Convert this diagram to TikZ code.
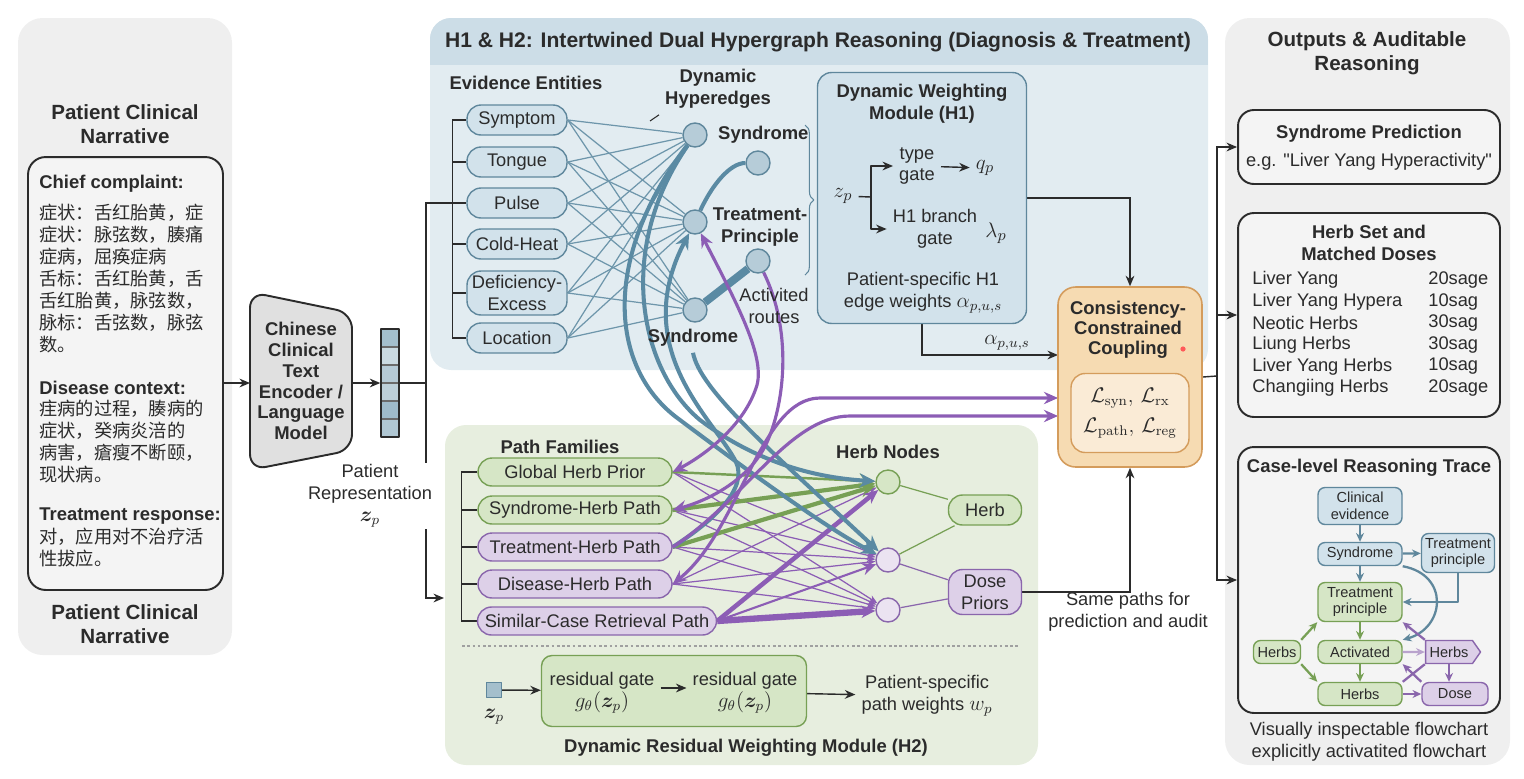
\documentclass[tikz,border=0pt]{standalone}
\usepackage[no-math]{fontspec}
\setmainfont{Liberation Sans}
\newfontfamily\rawfont{Liberation Sans}[Ligatures=ResetAll]
\newfontfamily\cjkfont{Noto Sans CJK SC}
\usepackage{amsmath,amssymb,bm}
\usetikzlibrary{
  arrows.meta,
  positioning,
  calc,
  shapes.symbols,
  decorations.pathreplacing
}
\definecolor{inkdark}{HTML}{2B2B2B}
\definecolor{panelgray}{HTML}{EFEFEF}
\definecolor{boxgray}{HTML}{F4F4F4}
\definecolor{encgray}{HTML}{E0E0E0}
\definecolor{skypanel}{HTML}{E2ECF1}
\definecolor{skyhead}{HTML}{CCDDE7}
\definecolor{skyfill}{HTML}{D2E2EB}
\definecolor{skyline}{HTML}{5F879C}
\definecolor{skynode}{HTML}{B6CCD8}
\definecolor{skyedge}{HTML}{6E96AB}
\definecolor{skythick}{HTML}{5A8AA3}
\definecolor{leafpanel}{HTML}{E7EEDF}
\definecolor{leaffill}{HTML}{D6E6C6}
\definecolor{leafline}{HTML}{77A055}
\definecolor{plumfill}{HTML}{DDD0E8}
\definecolor{plumline}{HTML}{8A66AC}
\definecolor{plumedge}{HTML}{8C5DB5}
\definecolor{sandfill}{HTML}{F6DBB2}
\definecolor{sandline}{HTML}{D49C5C}
\definecolor{sandin}{HTML}{FAEBD6}
\newcommand{\txtbody}{\fontsize{10.4}{12.5}\selectfont}
\newcommand{\txthead}{\fontsize{10.5}{12.5}\selectfont\bfseries}
\newcommand{\txttitle}{\fontsize{11.7}{13.8}\selectfont\bfseries}
\newcommand{\txtsmall}{\fontsize{8.3}{9.6}\selectfont}
\newcommand{\txtmath}{\fontsize{13}{15}\selectfont}
\pgfdeclarelayer{bg}
\pgfdeclarelayer{wires}
\pgfsetlayers{bg,wires,main}

\begin{document}
\begin{tikzpicture}[x=0.02cm, y=-0.02cm, line join=round,
  every node/.style={font=\txtbody, text=inkdark},
  title/.style={font=\txttitle, align=center},
  head/.style={font=\txthead, align=center},
  note/.style={align=center},
  mathlab/.style={font=\txtmath},
  cjk/.style={font=\txtbody\cjkfont, align=left, anchor=north west, inner sep=0pt},
  wire/.style={draw=inkdark, line width=0.8pt},
  arr/.style={wire, -{Stealth[length=6pt,width=5pt]}},
  entity/.style={draw=skyline, fill=skyfill, rounded corners=8pt, minimum width=2cm, minimum height=0.6cm, align=center, inner sep=1pt, line width=0.8pt},
  hyper/.style={circle, draw=skyline, fill=skynode, minimum size=0.48cm, inner sep=0pt, line width=0.8pt},
  famleaf/.style={entity, draw=leafline, fill=leaffill, minimum width=3.88cm, minimum height=0.56cm},
  famplum/.style={famleaf, draw=plumline, fill=plumfill},
  herbleaf/.style={hyper, draw=leafline, fill=leaffill},
  herbplum/.style={hyper, draw=plumline, fill=plumfill!60},
  hedge/.style={draw=skyedge, line width=0.7pt},
  hbold/.style={draw=skythick, line width=2.3pt, -{Stealth[length=9pt,width=8pt]}},
  pbold/.style={draw=plumedge, line width=1.8pt, -{Stealth[length=8pt,width=7pt]}},
  pboth/.style={{Stealth[length=8pt,width=7pt]}-{Stealth[length=8pt,width=7pt]}},
  gbold/.style={draw=leafline, line width=2.4pt, -{Stealth[length=9pt,width=8pt]}},
  pthin/.style={draw=plumedge, line width=0.7pt, -{Stealth[length=5pt,width=4pt]}},
  module/.style={draw=skyline, fill=skyfill, rounded corners=8pt, line width=0.8pt},
  outbox/.style={draw=inkdark, fill=boxgray, rounded corners=9pt, line width=1.1pt, minimum width=5.24cm},
  flowsky/.style={draw=skyline, fill=skyfill, rounded corners=4pt, font=\txtsmall, align=center, minimum width=1.68cm, minimum height=0.46cm, inner sep=1.5pt, line width=0.8pt},
  flowleaf/.style={flowsky, draw=leafline, fill=leaffill},
  flowplum/.style={flowsky, draw=plumline, fill=plumfill},
  farr/.style={-{Stealth[length=5pt,width=4.5pt]}, line width=1.3pt}]
  \useasboundingbox (0,0) rectangle (1524,778);
  \begin{pgfonlayer}{bg}
    \fill[panelgray, rounded corners=14pt] (18,18) rectangle (232,655);
    \fill[panelgray, rounded corners=14pt] (1225,18) rectangle (1510,765);
    \fill[skypanel, rounded corners=12pt] (430,18) rectangle (1208,370);
    \begin{scope}
      \clip[rounded corners=12pt] (430,18) rectangle (1208,370);
      \fill[skyhead] (430,18) rectangle (1208,65);
    \end{scope}
    \fill[leafpanel, rounded corners=12pt] (445,425) rectangle (1038,765);
  \end{pgfonlayer}

  \node[title] (pcntop) at (125,124) {Patient Clinical\\Narrative};
  \node[draw=inkdark, fill=boxgray, rounded corners=10pt, line width=1.1pt, minimum width=3.9cm, minimum height=8.66cm] (narr) at (125.5,373.5) {};
  \node[head, anchor=west, inner sep=0pt] (cchead) at (39,184) {Chief complaint:};
  \node[cjk] (cctext) at (39,204) {症状：舌红胎黄，症\\症状：脉弦数，腠痛\\症病，屈痪症病\\舌标：舌红胎黄，舌\\舌红胎黄，脉弦数，\\脉标：舌弦数，脉弦\\数。};
  \node[head, anchor=west, inner sep=0pt] (dchead) at (39,388) {Disease context:};
  \node[cjk] (dctext) at (39,400) {疰病的过程，腠病的\\症状，癸病炎涪的\\病害，瘡瘦不断颐，\\现状病。};
  \node[head, anchor=west, inner sep=0pt] (trhead) at (39,516) {Treatment response:};
  \node[cjk] (trtext) at (39,528) {对，应用对不治疗活\\性拔应。};
  \node[title] (pcnbot) at (125,624) {Patient Clinical\\Narrative};

  \draw[fill=encgray, draw=inkdark, line width=1.1pt, rounded corners=9pt] (250,292) -- (352,313) -- (352,450) -- (250,470) -- cycle;
  \node[head, font=\fontsize{10.5}{11.9}\selectfont\bfseries] (enc) at (301,381) {Chinese\\Clinical\\Text\\Encoder /\\Language\\Model};
  \coordinate (encin) at (250,383);
  \coordinate (encout) at (352,383);
  \foreach \i/\s in {0/55,1/32,2/45,3/40,4/58,5/48} {
    \fill[skythick!\s!white] (381,{329+18*\i}) rectangle (399,{347+18*\i});
  }
  \foreach \i in {1,...,5} {
    \draw[inkdark!70, line width=0.6pt] (381,{329+18*\i}) -- (399,{329+18*\i});
  }
  \node[draw=inkdark, line width=0.8pt, minimum width=0.36cm, minimum height=2.16cm, inner sep=0pt] (vec) at (390,383) {};
  \coordinate (split) at (426,383);
  \coordinate (evin) at (453,203);
  \coordinate (pfin) at (444,598);

  \node[font=\fontsize{12}{14}\selectfont\bfseries] (h12) at (818,42) {H1 \& H2: Intertwined Dual Hypergraph Reasoning (Diagnosis \& Treatment)};
  \node[head] (evtitle) at (526,83) {Evidence Entities};
  \node[entity] (sym) at (517,120) {Symptom};
  \node[entity] (ton) at (517,162) {Tongue};
  \node[entity] (pul) at (517,203) {Pulse};
  \node[entity] (col) at (517,244) {Cold-Heat};
  \node[entity, minimum height=0.88cm] (def) at (517,293) {Deficiency-\\Excess};
  \node[entity] (loc) at (517,338) {Location};
  \node[hyper] (ha) at (695,135) {};
  \node[hyper] (hb) at (758,163) {};
  \node[hyper] (hc) at (695,222) {};
  \node[hyper] (hd) at (758,261) {};
  \node[hyper] (he) at (695,310) {};
  \node[head, anchor=west] (lsyn1) at (712,135) {Syndrome};
  \node[head] (ltp) at (760,227) {Treatment-\\Principle};
  \node[head] (lsyn2) at (693,338) {Syndrome};
  \node[head] (ldh) at (718,89) {Dynamic\\Hyperedges};
  \coordinate (tick) at (650,121);
  \draw[inkdark, line width=0.6pt] (tick) -- (ldh.south west);
  \node[note] (actr) at (774,306) {Activited\\routes};
  \draw[skyline, line width=0.6pt, decorate, decoration={brace, amplitude=5pt}] (805,125) -- (805,275);

  \node[module, minimum width=4.18cm, minimum height=5.02cm] (dwm) at (922,198) {};
  \node[head] (dwmtitle) at (922,104) {Dynamic Weighting\\Module (H1)};
  \node[mathlab] (zp1) at (843,196) {$z_p$};
  \coordinate (br) at (871,197);
  \node[note] (tg) at (917,166) {type\\gate};
  \node[mathlab] (qp) at (985,168) {$q_p$};
  \node[note] (bg) at (935,229) {H1 branch\\gate};
  \node[mathlab] (lp) at (996,233) {$\lambda_p$};
  \node[note] (ew) at (923,293) {Patient-specific H1\\edge weights {\fontsize{12}{14}\selectfont$\alpha_{p,u,s}$}};
  \draw[wire] (zp1) -- (br);
  \draw[arr] (br) |- (tg);
  \draw[arr] (br) |- (bg);
  \draw[arr] (tg) -- (qp);

  \node[draw=sandline, fill=sandfill, rounded corners=10pt, line width=0.9pt, minimum width=2.88cm, minimum height=3.6cm] (cons) at (1130,377) {};
  \node[head, font=\fontsize{10.5}{11.4}\selectfont\bfseries] (constitle) at (1128,330) {Consistency-\\Constrained\\Coupling};
  \fill[red!65] (1183,349) circle (2.6);
  \node[draw=sandline, fill=sandin, rounded corners=8pt, line width=0.8pt, minimum width=2.36cm, minimum height=1.58cm, align=center, font=\fontsize{12}{17}\selectfont] (loss) at (1130,413) {$\mathcal{L}_{\mathrm{syn}},\,\mathcal{L}_{\mathrm{rx}}$\\$\mathcal{L}_{\mathrm{path}},\,\mathcal{L}_{\mathrm{reg}}$};
  \coordinate (cin0) at (1058,355);
  \coordinate (cin1) at (1058,398);
  \coordinate (cin2) at (1058,416);
  \node[font=\fontsize{12}{14}\selectfont] (alab) at (1007,343) {$\alpha_{p,u,s}$};

  \node[head] (pftitle) at (560,447) {Path Families};
  \node[famleaf] (ghp) at (575,472) {Global Herb Prior};
  \node[famleaf] (sph) at (575,510) {Syndrome-Herb Path};
  \node[famplum] (thp) at (575,547) {Treatment-Herb Path};
  \node[famplum] (dhp) at (575,584) {Disease-Herb Path};
  \node[famplum, minimum width=4.78cm] (scp) at (597,621) {Similar-Case Retrieval Path};
  \node[head] (hntitle) at (888,452) {Herb Nodes};
  \node[herbleaf] (h1) at (888,482) {};
  \node[herbplum] (h2) at (888,560) {};
  \node[herbplum] (h3) at (888,610) {};
  \node[entity, draw=leafline, fill=leaffill, minimum width=1.46cm] (herb) at (985,510) {Herb};
  \node[entity, draw=plumline, fill=plumfill, minimum width=1.46cm, minimum height=0.9cm] (dose) at (985,592) {Dose\\Priors};
  \draw[inkdark!45, line width=0.6pt, dash pattern=on 1.5pt off 1.5pt] (462,646) -- (1020,646);
  \node[draw=skyline, fill=skythick!55!white, minimum size=0.3cm, inner sep=0pt] (zsq) at (494,690) {};
  \node[font=\fontsize{12}{14}\selectfont] (zlab) at (494,717) {$\bm{z}_p$};
  \node[draw=leafline, fill=leaffill, rounded corners=6pt, line width=0.8pt, minimum width=5.3cm, minimum height=1.42cm] (res) at (674,691) {};
  \node[note] (rg1) at (602,693) {residual gate\\{\fontsize{12}{14}\selectfont$g_\theta(\bm{z}_p)$}};
  \node[note] (rg2) at (745,693) {residual gate\\{\fontsize{12}{14}\selectfont$g_\theta(\bm{z}_p)$}};
  \draw[arr] (rg1.east |- 0,688) -- (rg2.west |- 0,688);
  \node[note] (psw) at (927,696) {Patient-specific\\path weights {\fontsize{12}{14}\selectfont$w_p$}};
  \node[head] (h2title) at (746,748) {Dynamic Residual Weighting Module (H2)};
  \node[note] (same) at (1128,612) {Same paths for\\prediction and audit};

  \node[title] (outtitle) at (1367,53) {Outputs \& Auditable\\Reasoning};
  \node[outbox, minimum height=1.48cm] (synp) at (1369,147) {};
  \node[head] (synptitle) at (1369,134) {Syndrome Prediction};
  \node (synpeg) at (1369,162) {e.g. {\rawfont"}Liver Yang Hyperactivity{\rawfont"}};
  \node[outbox, minimum height=4.08cm] (herbset) at (1369,315) {};
  \node[head] (hstitle) at (1369,243) {Herb Set and\\Matched Doses};
  \foreach \i/\h/\d in {0/Liver Yang/20sage, 1/Liver Yang Hypera/10sag, 2/Neotic Herbs/30sag, 3/Liung Herbs/30sag, 4/Liver Yang Herbs/10sag, 5/Changiing Herbs/20sage} {
    \node[anchor=west, inner sep=0pt] at (1252,{280+21.6*\i}) {\h};
    \node[anchor=west, inner sep=0pt] at (1428,{280+21.6*\i}) {\d};
  }
  \node[outbox, minimum height=5.32cm] (trace) at (1369,580) {};
  \node[head] (trtitle) at (1369,468) {Case-level Reasoning Trace};
  \node[note] (trcap) at (1369,742) {Visually inspectable flowchart\\explicitly activatited flowchart};
  \node[flowsky, minimum height=0.74cm] (ce) at (1360,506) {Clinical\\evidence};
  \node[flowsky] (fsyn) at (1360,554) {Syndrome};
  \node[flowsky, minimum width=1.46cm, minimum height=0.78cm] (ftpb) at (1458,553) {Treatment\\principle};
  \node[flowleaf, minimum height=0.78cm] (ftpg) at (1360,602) {Treatment\\principle};
  \node[flowleaf, minimum width=0.94cm] (fherbl) at (1277,652) {Herbs};
  \node[flowleaf] (fact) at (1360,652) {Activated};
  \node[flowplum, shape=signal, signal to=east, signal pointer angle=110, rounded corners=0pt, minimum width=1.1cm] (fherbp) at (1449,652) {Herbs};
  \node[flowleaf] (fherbb) at (1360,694) {Herbs};
  \node[flowplum, minimum width=1.32cm] (fdose) at (1455,694) {Dose};
  \draw[farr, skyline] (ce) -- (fsyn);
  \draw[farr, skyline] (fsyn) -- (ftpb);
  \draw[farr, skyline] (fsyn) -- (ftpg);
  \draw[farr, skyline] (ftpb) |- (ftpg);
  \draw[farr, skyline] (fsyn.south east) .. controls (1450,575) and (1445,628) .. (fact.north east);
  \draw[farr, leafline] (ftpg) -- (fact);
  \draw[farr, leafline] (fherbl.north east) -- (ftpg.south west);
  \draw[farr, leafline] (fherbl.south east) -- (fherbb.north west);
  \draw[farr, leafline] (fact) -- (fherbb);
  \draw[farr, plumline!60] (fact) -- (fherbp);
  \draw[farr, plumline] (fherbb) -- (fdose);
  \draw[farr, plumline] (fherbp.south) -- (fherbp.south |- fdose.north);
  \draw[farr, plumline] (fdose.north west) -- (fact.south east);
  \draw[plumline, line width=1.3pt] (fherbb.north east) -- (fherbp.south west);
  \draw[farr, plumline] (fherbp.north west) -- (ftpg.south east);
  \coordinate (obus) at (1217,376);

  \begin{pgfonlayer}{wires}
    \draw[arr] (narr.east |- encin) -- (encin);
    \draw[arr] (encout) -- (vec);
    \draw[wire] (vec.east) -- (split);
    \draw[wire] (split) |- (evin);
    \draw[arr] (split) |- (pfin);
    \draw[wire] (sym.west) -- ++(-14,0) |- (loc.west);
    \foreach \n in {ton,pul,col,def} {
      \draw[wire] (\n.west) -- ++(-14,0);
    }
    \foreach \e in {sym,ton,pul,col,def,loc} {
      \foreach \h in {ha,hc,he} {
        \draw[hedge] (\e.east) -- (\h);
      }
    }
    \draw[draw=skythick, line width=2.3pt] (hc) .. controls (712,185) and (730,163) .. (hb);
    \draw[draw=skythick, line width=4.5pt] (he) -- (hd);
    \draw[arr] (dwm.east) -| (cons.north);
    \draw[arr] (dwm.south) |- (cin0);
    \draw[wire] (ghp.west) -- ++(-16,0) |- (scp.west);
    \foreach \n in {sph,thp,dhp} {
      \draw[wire] (\n.west) -- ++(-16,0);
    }
    \foreach \f in {ghp,sph,thp,dhp} {
      \draw[pthin] (\f.east) -- (h2);
      \draw[pthin] (\f.east) -- (h3);
    }
    \draw[pthin] (dhp.east) -- (h1);
    \draw[gbold, line width=1.4pt] (ghp.east) -- (h1);
    \draw[gbold] (sph.east) -- (h1);
    \draw[gbold] (thp.east) -- (h1);
    \draw[pbold, line width=1.2pt] (scp.east) -- (h2);
    \draw[pbold, line width=2.6pt] (scp.east) -- (h1);
    \draw[pbold, line width=3.6pt] (scp.east) -- (h3);
    \draw[draw=leafline, line width=0.7pt] (h1) -- (herb);
    \draw[draw=leafline, line width=0.7pt] (h2) -- (herb);
    \draw[draw=plumline, line width=0.7pt] (h2) -- (dose);
    \draw[draw=plumline, line width=0.7pt] (h3) -- (dose);
    \draw[hbold] (ha) .. controls (615,250) and (640,370) .. (700,420) .. controls (760,465) and (820,478) .. (h1);
    \draw[hbold] (ha) .. controls (600,260) and (610,370) .. (680,420) .. controls (760,480) and (830,530) .. (h2);
    \draw[hbold] (thp.east) .. controls (715,520) and (748,488) .. (736,462) .. controls (715,420) and (628,350) .. (hc);
    \draw[hbold] (lsyn2.south) .. controls (700,390) and (770,450) .. (h2);
    \draw[pbold, pboth] (hc) .. controls (735,300) and (765,355) .. (757,385) .. controls (745,425) and (705,455) .. (ghp.east);
    \draw[pbold] (hd) .. controls (792,330) and (785,400) .. (768,440) .. controls (752,478) and (710,500) .. (sph.east);
    \draw[pbold, pboth] (dhp.east) .. controls (740,530) and (760,398) .. (820,398) -- (cin1);
    \draw[pbold] (thp.east) .. controls (745,500) and (790,416) .. (850,416) -- (cin2);
    \draw[arr] (zsq) -- (res);
    \draw[arr] (res) -- (psw);
    \draw[arr] (dose.east) -| (cons.south);
    \draw[wire] (cons.east) -- (obus);
    \draw[arr] (obus) |- (synp);
    \draw[arr] (obus) |- (herbset);
    \draw[arr] (obus) |- (trace);
  \end{pgfonlayer}
  \node[note, fill=white, inner sep=1pt] (prep) at (370,496) {Patient\\Representation\\{\fontsize{12}{14}\selectfont$\bm{z}_p$}};
\end{tikzpicture}
\end{document}
